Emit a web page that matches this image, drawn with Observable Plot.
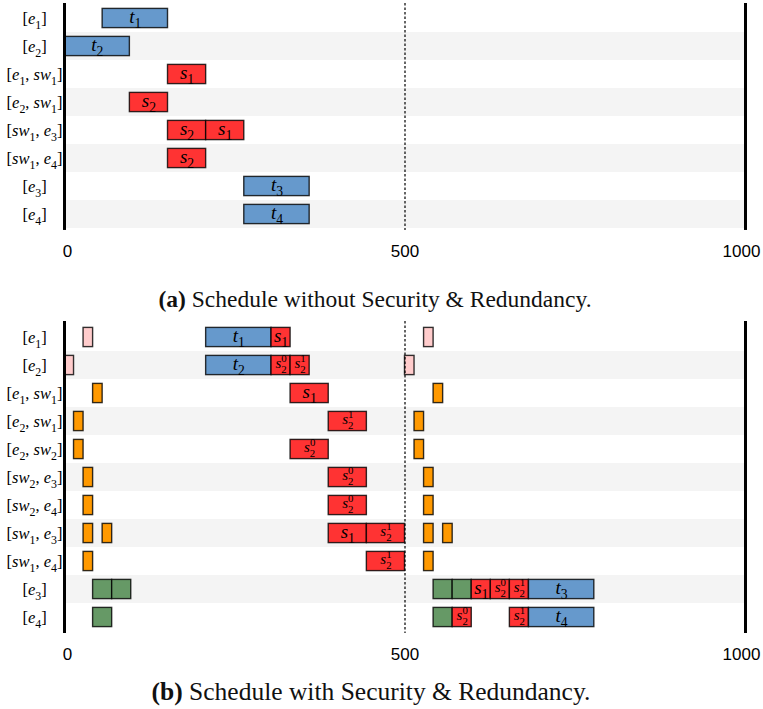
<!DOCTYPE html>
<html>
<head>
<meta charset="utf-8">
<script src="https://cdn.jsdelivr.net/npm/d3@7"></script>
<script src="https://cdn.jsdelivr.net/npm/@observablehq/plot@0.6"></script>
<style>
  body { margin: 0; background: #fff; width: 763px; }
  svg { display: block; }
  .cap { font-family: "Liberation Serif", "Times New Roman", serif; line-height: 26px;
         text-align: center; color: #111; box-sizing: border-box; }
  .serif, .serif tspan { font-family: "Liberation Serif", "Times New Roman", serif !important; }
</style>
</head>
<body>
<div id="panelA"></div>
<div class="cap" style="height:48px;padding-top:16px;width:750px;font-size:23.5px"><b>(a)</b> Schedule without Security &amp; Redundancy.</div>
<div id="panelB"></div>
<div class="cap" style="height:38px;padding-top:8px;width:742px;font-size:25.5px"><b>(b)</b> Schedule with Security &amp; Redundancy.</div>
<script>
// Row labels use a small markup: _x is a subscript, ^x a superscript, letters are italic.
const rowsA = ["[e_1]", "[e_2]", "[e_1, sw_1]", "[e_2, sw_1]", "[sw_1, e_3]", "[sw_1, e_4]", "[e_3]", "[e_4]"];
const rowsB = ["[e_1]", "[e_2]", "[e_1, sw_1]", "[e_2, sw_1]", "[e_2, sw_2]", "[sw_2, e_3]", "[sw_2, e_4]",
               "[sw_1, e_3]", "[sw_1, e_4]", "[e_3]", "[e_4]"];

// Slot kinds and their fills
const kinds = ["task", "msg", "key", "auth", "verify"];
const kindFills = ["#6699cc", "#ff3333", "#ffcccc", "#ff9900", "#669966"];

// Time ticks
const timeTicks = [0, 500, 1000];
const deadline = [500];
const horizon = [0, 1000];

// Schedule (a): without security and redundancy
const aRow   = ["[e_1]", "[e_2]", "[e_1, sw_1]", "[e_2, sw_1]", "[sw_1, e_3]", "[sw_1, e_3]", "[sw_1, e_4]", "[e_3]", "[e_4]"];
const aStart = [56, 0, 152, 96, 152, 208, 152, 264, 264];
const aEnd   = [152, 96, 208, 152, 208, 264, 208, 360, 360];
const aKind  = ["task", "task", "msg", "msg", "msg", "msg", "msg", "task", "task"];
const aLabel = ["t_1", "t_2", "s_1", "s_2", "s_2", "s_1", "s_2", "t_3", "t_4"];

// Schedule (b): with security and redundancy
const bRow = [
  "[e_1]", "[e_1]", "[e_1]", "[e_1]",
  "[e_2]", "[e_2]", "[e_2]", "[e_2]", "[e_2]",
  "[e_1, sw_1]", "[e_1, sw_1]", "[e_1, sw_1]",
  "[e_2, sw_1]", "[e_2, sw_1]", "[e_2, sw_1]",
  "[e_2, sw_2]", "[e_2, sw_2]", "[e_2, sw_2]",
  "[sw_2, e_3]", "[sw_2, e_3]", "[sw_2, e_3]",
  "[sw_2, e_4]", "[sw_2, e_4]", "[sw_2, e_4]",
  "[sw_1, e_3]", "[sw_1, e_3]", "[sw_1, e_3]", "[sw_1, e_3]", "[sw_1, e_3]", "[sw_1, e_3]",
  "[sw_1, e_4]", "[sw_1, e_4]", "[sw_1, e_4]",
  "[e_3]", "[e_3]", "[e_3]", "[e_3]", "[e_3]", "[e_3]", "[e_3]", "[e_3]",
  "[e_4]", "[e_4]", "[e_4]", "[e_4]", "[e_4]"
];
const bStart = [
  28, 208, 304, 528,
  0, 208, 304, 332, 500,
  42, 332, 542,
  14, 388, 514,
  14, 332, 514,
  28, 388, 528,
  28, 388, 528,
  28, 56, 388, 444, 528, 556,
  28, 444, 528,
  42, 70, 542, 570, 598, 626, 654, 682,
  42, 542, 570, 654, 682
];
const bEnd = [
  42, 304, 332, 542,
  14, 304, 332, 360, 514,
  56, 388, 556,
  28, 444, 528,
  28, 388, 528,
  42, 444, 542,
  42, 444, 542,
  42, 70, 444, 500, 542, 570,
  42, 500, 542,
  70, 98, 570, 598, 626, 654, 682, 778,
  70, 570, 598, 682, 778
];
const bKind = [
  "key", "task", "msg", "key",
  "key", "task", "msg", "msg", "key",
  "auth", "msg", "auth",
  "auth", "msg", "auth",
  "auth", "msg", "auth",
  "auth", "msg", "auth",
  "auth", "msg", "auth",
  "auth", "auth", "msg", "msg", "auth", "auth",
  "auth", "msg", "auth",
  "verify", "verify", "verify", "verify", "msg", "msg", "msg", "task",
  "verify", "verify", "msg", "msg", "task"
];
const bLabel = [
  "", "t_1", "s_1", "",
  "", "t_2", "s_2^0", "s_2^1", "",
  "", "s_1", "",
  "", "s_2^1", "",
  "", "s_2^0", "",
  "", "s_2^0", "",
  "", "s_2^0", "",
  "", "", "s_1", "s_2^1", "", "",
  "", "s_2^1", "",
  "", "", "", "", "s_1", "s_2^0", "s_2^1", "t_3",
  "", "", "s_2^0", "s_2^1", "t_4"
];

const svgNS = "http://www.w3.org/2000/svg";

// Turn the markup of a text element into italic letters and sub/superscript tspans.
function mathify(el, size) {
  const src = el.textContent;
  const small = size * 0.72;
  el.textContent = "";
  el.classList.add("serif");
  el.style.fontSize = size + "px";
  let shift = 0, prevSub = false;
  const span = (s) => {
    const t = document.createElementNS(svgNS, "tspan");
    t.textContent = s;
    el.appendChild(t);
    return t;
  };
  for (let i = 0; i < src.length; i++) {
    const c = src[i];
    if ((c === "_" || c === "^") && i + 1 < src.length) {
      const v = src[++i];
      const target = c === "_" ? 0.3 * size : -0.4 * size;
      const t = span(v);
      t.style.fontSize = small + "px";
      t.style.fontStyle = "normal";
      t.setAttribute("dy", target - shift);
      if (c === "^" && prevSub) t.setAttribute("dx", -small * 0.5);
      shift = target;
      prevSub = c === "_";
    } else {
      const t = span(c);
      t.style.fontStyle = /[a-z]/.test(c) ? "italic" : "normal";
      if (shift) { t.setAttribute("dy", -shift); shift = 0; }
      prevSub = false;
    }
  }
}

// Outer tick labels sit slightly inside the frame
const tickNudge = {"0": 3, "1000": -4};

function schedule(rows, rowArr, startArr, endArr, kindArr, labelArr, height) {
  const slots = rowArr.map((row, i) => ({row, start: startArr[i], end: endArr[i], kind: kindArr[i], label: labelArr[i]}));
  const stripes = rows.filter((r, i) => i % 2 === 1);
  const svg = Plot.plot({
    width: 763,
    height,
    marginLeft: 64,
    marginRight: 18,
    marginTop: 3,
    marginBottom: height - 3 - rows.length * 28.37,
    style: {fontFamily: "'Liberation Sans', Arial, sans-serif", fontSize: "17px", background: "#fff", color: "#000"},
    x: {domain: horizon, ticks: timeTicks, tickSize: 0, tickPadding: 14, tickFormat: d3.format("d"), label: null},
    y: {domain: rows, padding: 0, tickSize: 0, tickPadding: 30, label: null},
    color: {domain: kinds, range: kindFills},
    marks: [
      Plot.barX(stripes, {y: d => d, x1: horizon[0], x2: horizon[1], fill: "#f4f4f4"}),
      Plot.barX(slots, {y: "row", x1: "start", x2: "end", fill: "kind", stroke: "#000", strokeOpacity: 0.8,
                        strokeWidth: 1.4, insetTop: 4.4, insetBottom: 4.4}),
      Plot.text(slots.filter(d => d.label), {
        y: "row", x: d => (d.start + d.end) / 2, text: "label",
        fontSize: d => d.label.includes("^") ? 15 : 19,
        fill: "#000", dy: -2
      }),
      Plot.ruleX(deadline, {stroke: "#000", strokeWidth: 1.2, strokeDasharray: "2.5,2"}),
      Plot.ruleX(horizon, {stroke: "#000", strokeWidth: 3})
    ]
  });
  // y tick labels: centred, serif math
  svg.querySelectorAll('[aria-label^="y-axis"] text').forEach(t => {
    t.setAttribute("text-anchor", "middle");
    mathify(t, 16.5);
  });
  // x tick labels
  svg.querySelectorAll('[aria-label^="x-axis"] text').forEach(t => {
    const n = tickNudge[t.textContent.trim()];
    if (n) t.setAttribute("dx", n);
  });
  // bar labels
  svg.querySelectorAll('g[aria-label="text"] text').forEach(t => {
    mathify(t, parseFloat(t.getAttribute("font-size")) || 19);
  });
  return svg;
}

document.getElementById("panelA").appendChild(schedule(rowsA, aRow, aStart, aEnd, aKind, aLabel, 270));
document.getElementById("panelB").appendChild(schedule(rowsB, bRow, bStart, bEnd, bKind, bLabel, 353));
</script>
</body>
</html>
